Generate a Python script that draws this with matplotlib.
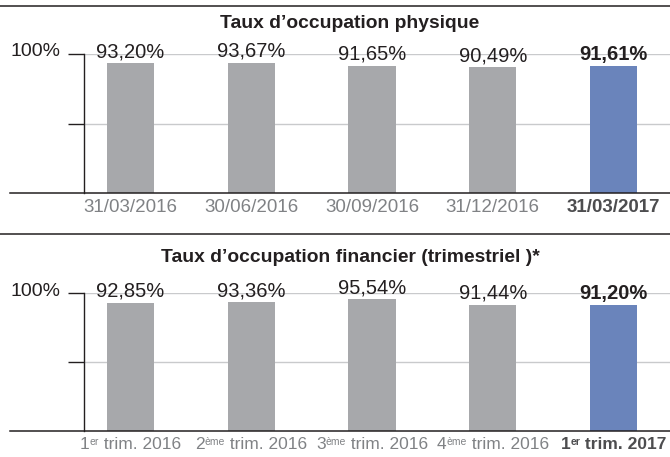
import matplotlib
matplotlib.use("Agg")
import matplotlib.pyplot as plt
from matplotlib.lines import Line2D
from matplotlib.transforms import ScaledTranslation
from matplotlib.offsetbox import TextArea, HPacker, AnnotationBbox
import numpy as np

plt.rcParams['font.family'] = ['Liberation Sans', 'DejaVu Sans']

# Data
phys_title = "Taux d’occupation physique"
phys_labels = [('31/03/2016',), ('30/06/2016',), ('30/09/2016',), ('31/12/2016',), ('31/03/2017',)]
phys_values = [93.20, 93.67, 91.65, 90.49, 91.61]

fin_title = "Taux d’occupation financier (trimestriel )*"
fin_labels = [('1', 'er', ' trim. 2016'), ('2', 'ème', ' trim. 2016'),
              ('3', 'ème', ' trim. 2016'), ('4', 'ème', ' trim. 2016'),
              ('1', 'er', ' trim. 2017')]
fin_values = [92.85, 93.36, 95.54, 91.44, 91.20]

y_ticks = [50, 100]
y_ticklabels = ['', '100%']

# Styles
W, H = 670, 457
DARK = '#231f20'
GREY_BAR = '#a7a8ab'
BLUE_BAR = '#6a84bb'
GREY_TXT = '#808285'
LAST_TXT = '#4d4d4f'
GRID = '#c9cacc'

fig = plt.figure(figsize=(W / 100, H / 100), dpi=100)


def fig_line(x0, x1, y, lw=1.0):
    # horizontal line in pixel coords (top-left origin)
    fig.add_artist(Line2D([x0 / W, x1 / W], [1 - y / H, 1 - y / H],
                          transform=fig.transFigure, color=DARK, lw=lw))


def x_label(ax, i, parts, bold, size):
    # label made of main text + optional superscript + rest
    color = LAST_TXT if bold else GREY_TXT
    weight = 'bold' if bold else 'normal'
    boxes = []
    for k, p in enumerate(parts):
        fs = 7.5 if k == 1 else size
        boxes.append(TextArea(p, textprops=dict(fontsize=fs, color=color, fontweight=weight)))
    pack = HPacker(children=boxes, align='top', pad=0, sep=0)
    ab = AnnotationBbox(pack, (i, 0), xybox=(0, -4.5), xycoords='data',
                        boxcoords='offset points', box_alignment=(0.5, 1),
                        frameon=False, pad=0, annotation_clip=False)
    ax.add_artist(ab)


def draw_panel(border_y, title_y, top_px, base_px, title, labels, values, lab_size):
    fig_line(0, W, border_y, lw=1.1)
    fig.text(350 / W, 1 - title_y / H, title, ha='center', va='center',
             fontsize=13.9, fontweight='bold', color=DARK)

    ax = fig.add_axes([84 / W, 1 - base_px / H, (W - 84) / W, (base_px - top_px) / H])
    x = np.arange(len(values))
    colors = [GREY_BAR] * (len(values) - 1) + [BLUE_BAR]
    ax.bar(x, values, width=0.39, color=colors, zorder=2)
    ax.set_xlim(-0.385, 4.468)
    ax.set_ylim(0, 100)

    for i, v in enumerate(values):
        last = i == len(values) - 1
        ax.annotate(f'{v:.2f}%'.replace('.', ','), (i, v), xytext=(0, 1.5),
                    textcoords='offset points', ha='center', va='bottom',
                    fontsize=14.5, color=DARK, fontweight='bold' if last else 'normal',
                    zorder=3)

    ax.set_yticks(y_ticks)
    ax.set_yticklabels(y_ticklabels)
    ax.tick_params(axis='y', length=11.5, width=1, color=DARK, pad=5.5,
                   labelsize=14, labelcolor=DARK)
    for lab in ax.get_yticklabels():
        lab.set_transform(lab.get_transform() + ScaledTranslation(0, 4 / 100, fig.dpi_scale_trans))
    ax.set_axisbelow(True)
    ax.yaxis.grid(True, color=GRID, lw=1)

    ax.set_xticks([])
    for i, parts in enumerate(labels):
        x_label(ax, i, parts, i == len(labels) - 1, lab_size)

    for s in ['top', 'right', 'bottom']:
        ax.spines[s].set_visible(False)
    ax.spines['left'].set_bounds(0, 100)
    ax.spines['left'].set_color(DARK)
    ax.spines['left'].set_linewidth(1)

    fig_line(10, W, base_px, lw=1.1)
    return ax


draw_panel(6, 24, 54, 193, phys_title, phys_labels, phys_values, 13.5)
draw_panel(234, 257, 293, 431, fin_title, fin_labels, fin_values, 12.5)

fig.savefig('out.png', dpi=100)
